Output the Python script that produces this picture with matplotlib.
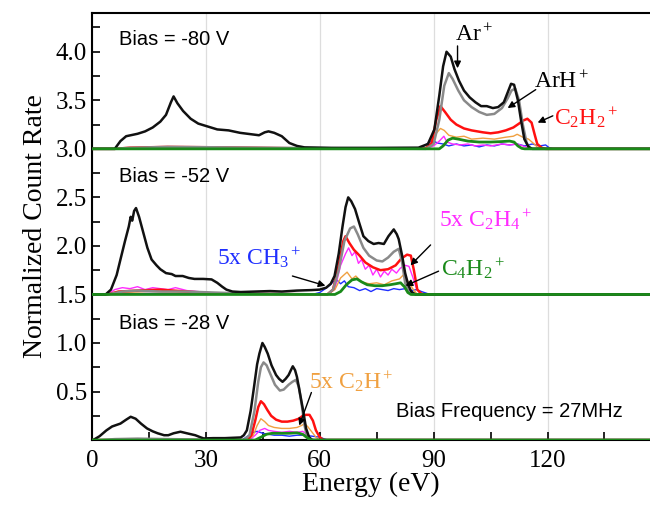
import matplotlib
matplotlib.use("Agg")
import matplotlib.pyplot as plt
from matplotlib.ticker import MultipleLocator

plt.rcParams['font.family'] = ['Liberation Serif', 'DejaVu Serif']
plt.rcParams['mathtext.fontset'] = 'custom'
plt.rcParams['mathtext.rm'] = 'Liberation Serif'
plt.rcParams['mathtext.it'] = 'Liberation Serif:italic'

# (energy eV, count rate above the panel baseline)
# bias -80 V, baseline 3.0
ar_80 = [(0,0),(6,0),(7.5,0.08),(9,0.13),(12,0.155),(14,0.18),(16,0.22),(18,0.28),(19.5,0.35),(20.8,0.48),(21.5,0.54),(22.5,0.47),(24,0.39),(26,0.31),(28,0.26),(30.5,0.23),(33,0.2),(36,0.19),(39,0.165),(42,0.15),(44,0.14),(45.5,0.17),(46.5,0.18),(48,0.165),(50,0.13),(52,0.06),(54,0.03),(56,0.015),(63,0.01),(75,0.01),(86,0.012),(88.5,0.05),(90.2,0.2),(91.5,0.55),(92.5,0.85),(93.4,1.0),(94.5,0.95),(95.5,0.82),(96.7,0.7),(98,0.6),(99.5,0.53),(101,0.48),(102.5,0.44),(104,0.44),(105.6,0.42),(107,0.43),(108.5,0.48),(109.5,0.58),(110.4,0.67),(111.2,0.66),(112.2,0.5),(113,0.3),(113.9,0.1),(115,0.02),(116,0),(147,0)]
arh_80 = [(0,0),(6,0),(10,0.01),(20,0.02),(35,0.015),(50,0.01),(88,0.0),(90,0.05),(91.5,0.3),(92.8,0.65),(94,0.78),(95,0.72),(96.5,0.6),(98,0.5),(100,0.43),(102,0.38),(104,0.35),(106,0.36),(108,0.42),(109.5,0.52),(110.5,0.6),(111.5,0.62),(112.5,0.5),(113.5,0.25),(114.5,0.06),(115.5,0),(147,0)]
c2h2_80 = [(0,0),(6,0),(10,0.012),(20,0.02),(35,0.015),(55,0.005),(88,0.005),(89.5,0.06),(90.7,0.3),(91.8,0.44),(93,0.38),(94.5,0.3),(96,0.25),(98,0.21),(100,0.19),(103,0.17),(105,0.16),(107,0.17),(109,0.19),(111,0.22),(112.5,0.26),(113.5,0.29),(114.7,0.31),(115.8,0.27),(116.6,0.15),(117.3,0.05),(118.5,0.01),(119.5,0),(147,0)]
c2h_80 = [(0,0),(6,0),(15,0.01),(30,0.01),(87,0.005),(89,0.03),(90.5,0.15),(91.8,0.21),(92.8,0.19),(94,0.14),(96,0.12),(98,0.13),(100,0.1),(103,0.11),(106,0.1),(109,0.12),(111,0.13),(112,0.15),(113.5,0.12),(115,0.1),(116.5,0.05),(117.5,0.01),(118.5,0),(147,0)]
c2h4_80 = [(0,0),(6,0),(20,0.01),(40,0.005),(88,0.005),(90,0.03),(91.5,0.08),(92.7,0.13),(93.5,0.07),(95,0.05),(97,0.04),(99,0.05),(101,0.03),(103,0.04),(105,0.03),(108,0.05),(110,0.04),(112,0.05),(113.5,0.03),(115,0.01),(116,0),(147,0)]
ch3_80 = [(0,0),(86,0),(87.5,0.03),(89,0.07),(90,0.08),(91,0.06),(92.5,0.05),(94,0.03),(96,0.05),(98,0.03),(100,0.04),(102,0.02),(104,0.04),(106,0.03),(108,0.05),(110,0.04),(112,0.05),(114,0.03),(116,0.05),(118,0.03),(119.5,0.04),(120.5,0.01),(121.5,0),(147,0)]
c4h2_80 = [(0,0),(91.5,0),(92.5,0.03),(93.8,0.09),(95,0.11),(96.5,0.1),(99,0.08),(102,0.07),(105,0.07),(108,0.075),(110,0.08),(111.2,0.07),(112.2,0.03),(113.2,0.005),(114,0),(147,0)]

# bias -52 V, baseline 1.5
ar_52 = [(0,0),(3.6,0),(5,0.05),(6.5,0.2),(7.5,0.36),(8.7,0.55),(9.7,0.7),(10.2,0.8),(10.6,0.76),(11.1,0.86),(11.6,0.89),(12.4,0.8),(13.5,0.64),(14.6,0.48),(15.7,0.36),(17,0.3),(18,0.26),(19.5,0.22),(21,0.21),(22,0.19),(23.9,0.19),(25.5,0.17),(27,0.16),(29.3,0.16),(31.5,0.155),(33,0.12),(34.3,0.08),(35.4,0.05),(37,0.03),(39.2,0.025),(43,0.03),(46.9,0.035),(50,0.03),(54,0.04),(57.8,0.045),(60,0.05),(61.7,0.07),(62.9,0.11),(63.9,0.19),(65,0.42),(66,0.7),(66.8,0.9),(67.5,1.0),(68.3,0.96),(69.3,0.88),(70.3,0.75),(71.5,0.6),(72.8,0.55),(74.2,0.52),(75.5,0.53),(76.9,0.52),(78.1,0.6),(79.5,0.67),(80.3,0.62),(80.8,0.57),(81.7,0.4),(82.5,0.22),(83.3,0.1),(84.1,0.03),(85.2,0),(147,0)]
arh_52 = [(0,0),(4,0),(8,0.03),(12,0.04),(18,0.03),(25,0.03),(32,0.02),(40,0.01),(62,0.0),(63.5,0.05),(65,0.25),(66.5,0.55),(68,0.68),(69,0.7),(70,0.62),(71.5,0.48),(73,0.4),(75,0.35),(76.5,0.34),(78,0.38),(79.5,0.44),(80.8,0.47),(81.6,0.35),(82.5,0.12),(83.5,0.02),(84.5,0),(147,0)]
c2h2_52 = [(0,0),(4,0),(7,0.03),(12,0.04),(18,0.05),(25,0.03),(32,0.01),(62,0.0),(63.5,0.05),(65,0.3),(66.2,0.55),(66.8,0.6),(67.8,0.53),(69,0.46),(70.5,0.4),(72,0.33),(74,0.28),(76,0.25),(78,0.26),(80,0.3),(81.5,0.37),(83,0.41),(84,0.4),(84.8,0.25),(85.7,0.05),(86.7,0.01),(87.5,0),(147,0)]
c2h_52 = [(0,0),(4,0),(8,0.02),(15,0.03),(25,0.02),(32,0.01),(62,0),(64,0.05),(65.5,0.17),(67.2,0.23),(68.5,0.16),(69.5,0.19),(71,0.13),(73,0.11),(75,0.12),(77,0.1),(79,0.14),(81,0.16),(82,0.2),(83,0.15),(84.5,0.06),(85.5,0.01),(86.5,0),(147,0)]
c2h4_52 = [(0,0),(4,0),(6,0.05),(8,0.07),(10,0.06),(12,0.08),(14,0.05),(16,0.07),(18,0.06),(20,0.05),(22,0.07),(25,0.04),(28,0.03),(32,0.01),(62,0.0),(64,0.06),(65.5,0.3),(66.8,0.42),(67.6,0.48),(68.5,0.4),(69.3,0.44),(70.2,0.32),(71,0.36),(72,0.26),(73,0.3),(74,0.2),(75,0.26),(76,0.18),(77,0.24),(78,0.2),(79,0.26),(80.2,0.22),(81.2,0.27),(82.5,0.3),(83.5,0.29),(84.5,0.18),(85.5,0.06),(86.5,0.01),(87.5,0),(147,0)]
ch3_52 = [(0,0),(4,0),(10,0.01),(20,0.01),(58,0),(60,0.02),(61.5,0.06),(62.8,0.1),(63.5,0.13),(64.5,0.15),(65.5,0.11),(66.5,0.14),(67.5,0.08),(69,0.07),(70.5,0.04),(72,0.06),(73.5,0.03),(75,0.06),(76.5,0.05),(78,0.04),(79.5,0.06),(81,0.05),(82.5,0.06),(84,0.04),(85.5,0.05),(86.8,0.03),(88.3,0.01),(89,0),(147,0)]
c4h2_52 = [(0,0),(64,0),(65.5,0.03),(67,0.1),(68.5,0.15),(69.8,0.16),(71,0.13),(72.5,0.1),(74.5,0.09),(76.5,0.09),(78.5,0.1),(80,0.11),(81.3,0.12),(82.3,0.08),(83.2,0.02),(84,0),(147,0)]

# bias -28 V, baseline 0
ar_28 = [(0,0),(0.3,0),(2,0.04),(3.8,0.1),(5.3,0.14),(7.5,0.17),(9,0.21),(10.2,0.24),(11.5,0.22),(12.9,0.17),(14.5,0.12),(16,0.09),(17.3,0.07),(19,0.05),(20.1,0.05),(21.5,0.07),(23.3,0.086),(25,0.07),(27.2,0.05),(28.5,0.03),(29.4,0.017),(32,0.02),(35,0.02),(39.2,0.027),(40,0.05),(40.8,0.1),(41.8,0.3),(42.7,0.55),(43.5,0.78),(44.1,0.89),(44.9,1.0),(45.5,0.96),(46.3,0.89),(47.3,0.77),(48.5,0.67),(49.3,0.63),(50.2,0.6),(51,0.63),(51.8,0.67),(52.4,0.72),(52.9,0.76),(53.5,0.72),(54,0.65),(54.8,0.48),(55.6,0.31),(56.4,0.12),(57.2,0.03),(58,0),(147,0)]
arh_28 = [(0,0),(2,0),(6,0.01),(12,0.015),(20,0.01),(30,0.005),(40,0),(41.5,0.05),(42.8,0.3),(43.8,0.6),(44.5,0.75),(45.2,0.8),(46,0.77),(47,0.68),(48.2,0.57),(49.5,0.51),(50.5,0.52),(51.8,0.57),(52.8,0.6),(53.7,0.62),(54.5,0.55),(55.3,0.35),(56,0.15),(56.6,0.04),(57.3,0),(147,0)]
c2h2_28 = [(0,0),(41,0),(42,0.05),(43,0.2),(43.8,0.34),(44.5,0.4),(45.3,0.37),(46.2,0.31),(47.2,0.25),(48.5,0.21),(50,0.19),(51.5,0.19),(53,0.2),(54.5,0.22),(55.5,0.25),(56.3,0.26),(57.3,0.26),(58.2,0.2),(59,0.1),(60,0.03),(61,0),(147,0)]
c2h_28 = [(0,0),(41,0),(42.5,0.05),(43.5,0.15),(44.5,0.22),(45.5,0.19),(46.5,0.15),(48,0.13),(50,0.12),(52,0.12),(54,0.13),(55.2,0.15),(56,0.17),(56.8,0.14),(58,0.08),(59,0.03),(60,0),(147,0)]
c2h4_28 = [(0,0),(41.5,0),(43,0.05),(44.2,0.1),(45.5,0.12),(46.5,0.1),(48,0.09),(50,0.08),(52,0.09),(54,0.08),(55.5,0.09),(56.5,0.06),(57.5,0.02),(58.5,0),(147,0)]
ch3_28 = [(0,0),(39.5,0),(41,0.04),(42.5,0.08),(43.5,0.09),(45,0.07),(46.5,0.06),(48,0.05),(50,0.05),(52,0.04),(54,0.05),(56,0.05),(58,0.04),(60,0.03),(61.3,0.01),(62.2,0),(147,0)]
c4h2_28 = [(0,0),(43,0),(44.5,0.03),(46,0.06),(47.5,0.07),(50,0.07),(52,0.07),(54,0.075),(55.5,0.06),(56.5,0.03),(57.5,0.005),(58.5,0),(147,0)]

offsets = [3.0, 1.5, 0.0]
bias_labels = ["Bias = -80 V", "Bias = -52 V", "Bias = -28 V"]
bias_y = [4.13, 2.71, 1.2]
panels = [
    [ch3_80, c2h4_80, c2h_80, c2h2_80, arh_80, ar_80, c4h2_80],
    [ch3_52, c2h4_52, c2h_52, c2h2_52, arh_52, ar_52, c4h2_52],
    [ch3_28, c2h4_28, c2h_28, c2h2_28, arh_28, ar_28, c4h2_28],
]
colors = ['#1f2fff', '#ff2bff', '#f0a040', '#ff1010', '#8a8a8a', '#111111', '#1a8a1a']
widths = [1.0, 1.0, 1.0, 1.8, 1.8, 1.8, 2.0]

fig = plt.figure(figsize=(6.5, 5.07), dpi=100)
ax = fig.add_axes([0.1415, 0.132, 0.8585, 0.8425])

for off, series in zip(offsets, panels):
    for s, c, w in zip(series, colors, widths):
        xs = [p[0] for p in s]
        ys = [p[1] + off for p in s]
        ax.plot(xs, ys, color=c, lw=w, zorder=3)

ax.set_xlim(0, 147)
ax.set_ylim(0, 4.4)
ax.xaxis.set_major_locator(MultipleLocator(30))
ax.xaxis.set_minor_locator(MultipleLocator(15))
ax.yaxis.set_minor_locator(MultipleLocator(0.25))
ax.set_yticks([0.5, 1.0, 1.5, 2.0, 2.5, 3.0, 3.5, 4.0])
ax.tick_params(which='both', direction='in', length=6, width=1.2, labelsize=18)
ax.tick_params(axis='x', pad=7)
ax.grid(axis='x', color='#dddddd', lw=0.9, zorder=0)
for sp in ['left', 'bottom', 'top']:
    ax.spines[sp].set_linewidth(1.5)
ax.spines['right'].set_visible(False)

ax.set_xlabel("Energy (eV)", fontsize=20, labelpad=0)
ax.set_ylabel("Normalized Count Rate", fontsize=20, labelpad=6)

sans = ['Liberation Sans', 'DejaVu Sans']
for by, lab in zip(bias_y, bias_labels):
    ax.text(7, by, lab, family=sans, fontsize=14.5, va='center', ha='left')
ax.text(80.2, 0.29, "Bias Frequency = 27MHz", family=sans, fontsize=14.5,
        va='center', ha='left')

arrow = dict(arrowstyle='-|>', color='black', lw=1.0, mutation_scale=10,
             shrinkA=0, shrinkB=0)
notes = [
    (r'$\mathrm{Ar{}^+}$', (95.5, 4.17), (96.3, 4.06), (96.3, 3.83), 'black'),
    (r'$\mathrm{ArH{}^+}$', (116.5, 3.69), (116.9, 3.61), (109.5, 3.42), 'black'),
    (r'$\mathrm{C_2H_2{}^+}$', (121.8, 3.32), (121.4, 3.34), (117.4, 3.27), '#ff1010'),
    (r'$\mathrm{5x\ CH_3{}^+}$', (33, 1.88), (52.8, 1.69), (61.5, 1.59), '#1f2fff'),
    (r'$\mathrm{5x\ C_2H_4{}^+}$', (91.3, 2.27), (89.2, 2.01), (83.9, 1.80), '#ff2bff'),
    (r'$\mathrm{C_4H_2{}^+}$', (92.0, 1.77), (91.3, 1.74), (82.6, 1.59), '#1a8a1a'),
    (r'$\mathrm{5x\ C_2H{}^+}$', (57.2, 0.6), (57.8, 0.49), (54.6, 0.15), '#f0a040'),
]
for txt, pos, a0, a1, col in notes:
    ax.text(pos[0], pos[1], txt, color=col, fontsize=17, va='center', ha='left', zorder=5)
    ax.annotate('', xy=a1, xytext=a0, arrowprops=arrow, zorder=5)

fig.savefig("out.png", dpi=100)
